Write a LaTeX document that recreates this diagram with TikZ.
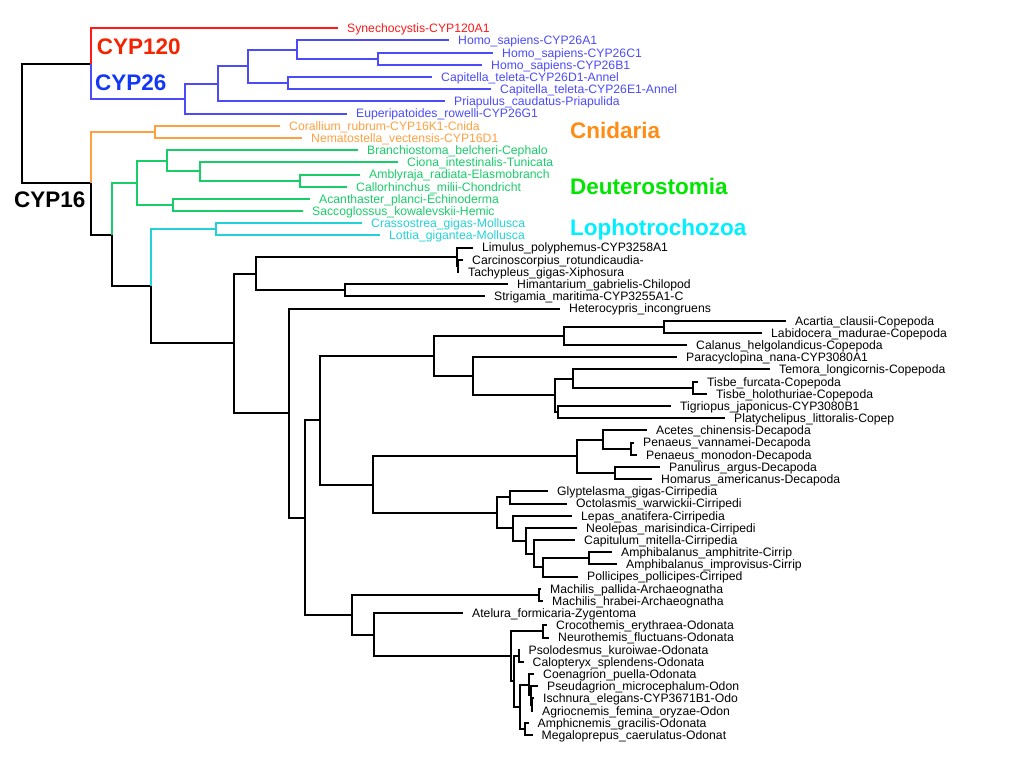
\documentclass[tikz,border=0pt]{standalone}
\usepackage{fontspec}
\setmainfont{Liberation Sans}
\definecolor{cred}{RGB}{255,25,25}
\definecolor{cblue}{RGB}{75,75,250}
\definecolor{corange}{RGB}{255,160,65}
\definecolor{cgreen}{RGB}{25,205,105}
\definecolor{ccyan}{RGB}{35,210,215}
\definecolor{lred}{RGB}{245,35,0}
\definecolor{lblue}{RGB}{20,55,245}
\definecolor{lorange}{RGB}{255,140,20}
\definecolor{lgreen}{RGB}{0,230,0}
\definecolor{lcyan}{RGB}{0,240,255}
\begin{document}
\begin{tikzpicture}[x=1pt,y=-12.185pt,
 br/.style={line width=2pt},
 tip/.style={anchor=west,inner xsep=9pt,inner ysep=0pt,text height=8.7pt,text depth=0pt,font=\fontsize{12.2}{13}\selectfont},
 clade/.style={anchor=west,inner sep=0pt,text height=16.1pt,text depth=0pt,font=\fontsize{22.5}{26}\selectfont\bfseries}]
 \useasboundingbox (0,-2.3225) rectangle (1024,60.706);
 \node[tip,text=cred] (syn) at (338,0) {Synechocystis-CYP120A1};
 \node[tip,text=cblue] (hsa) at (449,1) {Homo\_sapiens-CYP26A1};
 \node[tip,text=cblue] (hsc) at (493,2) {Homo\_sapiens-CYP26C1};
 \node[tip,text=cblue] (hsb) at (482,3) {Homo\_sapiens-CYP26B1};
 \node[tip,text=cblue] (ctd) at (432,4) {Capitella\_teleta-CYP26D1-Annel};
 \node[tip,text=cblue] (cte) at (491,5) {Capitella\_teleta-CYP26E1-Annel};
 \node[tip,text=cblue] (pca) at (445,6) {Priapulus\_caudatus-Priapulida};
 \node[tip,text=cblue] (eur) at (347,7) {Euperipatoides\_rowelli-CYP26G1};
 \node[tip,text=corange] (cru) at (280,8) {Corallium\_rubrum-CYP16K1-Cnida};
 \node[tip,text=corange] (nve) at (302,9) {Nematostella\_vectensis-CYP16D1};
 \node[tip,text=cgreen] (bbe) at (358,10) {Branchiostoma\_belcheri-Cephalo};
 \node[tip,text=cgreen] (cin) at (398,11) {Ciona\_intestinalis-Tunicata};
 \node[tip,text=cgreen] (ara) at (360,12) {Amblyraja\_radiata-Elasmobranch};
 \node[tip,text=cgreen] (cmi) at (347,13) {Callorhinchus\_milii-Chondricht};
 \node[tip,text=cgreen] (apl) at (310,14) {Acanthaster\_planci-Echinoderma};
 \node[tip,text=cgreen] (sko) at (303,15) {Saccoglossus\_kowalevskii-Hemic};
 \node[tip,text=ccyan] (cgi) at (362,16) {Crassostrea\_gigas-Mollusca};
 \node[tip,text=ccyan] (lgi) at (380,17) {Lottia\_gigantea-Mollusca};
 \node[tip] (lpo) at (473,18) {Limulus\_polyphemus-CYP3258A1};
 \node[tip] (cro) at (463,19) {Carcinoscorpius\_rotundicaudia-};
 \node[tip] (tgi) at (459,20) {Tachypleus\_gigas-Xiphosura};
 \node[tip] (hga) at (508,21) {Himantarium\_gabrielis-Chilopod};
 \node[tip] (sma) at (485,22) {Strigamia\_maritima-CYP3255A1-C};
 \node[tip] (hin) at (560,23) {Heterocypris\_incongruens};
 \node[tip] (acl) at (786,24) {Acartia\_clausii-Copepoda};
 \node[tip] (lma) at (762,25) {Labidocera\_madurae-Copepoda};
 \node[tip] (che) at (687,26) {Calanus\_helgolandicus-Copepoda};
 \node[tip] (pna) at (677,27) {Paracyclopina\_nana-CYP3080A1};
 \node[tip] (tlo) at (770,28) {Temora\_longicornis-Copepoda};
 \node[tip] (tfu) at (698,29) {Tisbe\_furcata-Copepoda};
 \node[tip] (tho) at (707,30) {Tisbe\_holothuriae-Copepoda};
 \node[tip] (tja) at (671,31) {Tigriopus\_japonicus-CYP3080B1};
 \node[tip] (pli) at (725,32) {Platychelipus\_littoralis-Copep};
 \node[tip] (ach) at (647,33) {Acetes\_chinensis-Decapoda};
 \node[tip] (pva) at (634,34) {Penaeus\_vannamei-Decapoda};
 \node[tip] (pmo) at (637,35) {Penaeus\_monodon-Decapoda};
 \node[tip] (par) at (660,36) {Panulirus\_argus-Decapoda};
 \node[tip] (ham) at (652,37) {Homarus\_americanus-Decapoda};
 \node[tip] (ggi) at (548,38) {Glyptelasma\_gigas-Cirripedia};
 \node[tip] (owa) at (567,39) {Octolasmis\_warwickii-Cirripedi};
 \node[tip] (lan) at (572,40) {Lepas\_anatifera-Cirripedia};
 \node[tip] (nma) at (577,41) {Neolepas\_marisindica-Cirripedi};
 \node[tip] (cmt) at (575,42) {Capitulum\_mitella-Cirripedia};
 \node[tip] (aam) at (612,43) {Amphibalanus\_amphitrite-Cirrip};
 \node[tip] (aim) at (617,44) {Amphibalanus\_improvisus-Cirrip};
 \node[tip] (ppo) at (578,45) {Pollicipes\_pollicipes-Cirriped};
 \node[tip] (mpa) at (541,46) {Machilis\_pallida-Archaeognatha};
 \node[tip] (mhr) at (543,47) {Machilis\_hrabei-Archaeognatha};
 \node[tip] (afo) at (463,48) {Atelura\_formicaria-Zygentoma};
 \node[tip] (cer) at (547,49) {Crocothemis\_erythraea-Odonata};
 \node[tip] (nfl) at (549,50) {Neurothemis\_fluctuans-Odonata};
 \node[tip] (pku) at (519.5,51) {Psolodesmus\_kuroiwae-Odonata};
 \node[tip] (csp) at (523.5,52) {Calopteryx\_splendens-Odonata};
 \node[tip] (cpu) at (534,53) {Coenagrion\_puella-Odonata};
 \node[tip] (pmi) at (538,54) {Pseudagrion\_microcephalum-Odon};
 \node[tip] (iel) at (534,55) {Ischnura\_elegans-CYP3671B1-Odo};
 \node[tip] (afe) at (533,56) {Agriocnemis\_femina\_oryzae-Odon};
 \node[tip] (agr) at (528.5,57) {Amphicnemis\_gracilis-Odonata};
 \node[tip] (mca) at (532.5,58) {Megaloprepus\_caerulatus-Odonat};
 \coordinate (root) at (22,7.803);
 \coordinate (n120) at (91,2.8906);
 \coordinate (n26) at (185,5.7813);
 \coordinate (n26b) at (218,4.5625);
 \coordinate (n26c) at (248,3.125);
 \coordinate (n26d) at (297,1.75);
 \coordinate (n26e) at (377.7,2.5);
 \coordinate (n26f) at (288,4.5);
 \coordinate (n16) at (91,12.716);
 \coordinate (ncni) at (154.5,8.5);
 \coordinate (n16b) at (112.3,16.932);
 \coordinate (ndeu) at (137.3,12.6875);
 \coordinate (ndeu1) at (166.7,10.875);
 \coordinate (ndeu2) at (200,11.75);
 \coordinate (ndeu3) at (300,12.5);
 \coordinate (ndeu4) at (172.7,14.5);
 \coordinate (n16c) at (151,21.176);
 \coordinate (nlop) at (216,16.5);
 \coordinate (nart) at (234.3,25.852);
 \coordinate (nmyr) at (256,20.125);
 \coordinate (nxip) at (457,18.75);
 \coordinate (nxip2) at (457.6,19.5);
 \coordinate (nchi) at (345,21.5);
 \coordinate (npan) at (289,31.578);
 \coordinate (npan2) at (305.3,40.156);
 \coordinate (ncru) at (320,32.1758);
 \coordinate (ncop) at (434,26.9063);
 \coordinate (ncal) at (563.6,25.25);
 \coordinate (ncal2) at (663.6,24.5);
 \coordinate (ncyc) at (473,28.5625);
 \coordinate (ncyc2) at (555,30.125);
 \coordinate (ncyc3) at (573,28.75);
 \coordinate (ntis) at (693,29.5);
 \coordinate (ncyc4) at (558,31.5);
 \coordinate (nthe) at (372.6,37.4453);
 \coordinate (ndec) at (576.7,35.125);
 \coordinate (ndec2) at (602.7,33.75);
 \coordinate (npen) at (630.7,34.5);
 \coordinate (ndec3) at (615,36.5);
 \coordinate (ncir) at (497.3,39.7656);
 \coordinate (ncir2) at (510,38.5);
 \coordinate (ncir3) at (513.3,41.0313);
 \coordinate (ncir4) at (525.7,42.0625);
 \coordinate (ncir5) at (534.3,43.125);
 \coordinate (ncir6) at (543.3,44.25);
 \coordinate (namp) at (589.3,43.5);
 \coordinate (nins) at (351.7,48.1367);
 \coordinate (nmac) at (539.3,46.5);
 \coordinate (nins2) at (374.3,49.7734);
 \coordinate (nodo) at (511,51.5469);
 \coordinate (nodo1) at (543,49.5);
 \coordinate (nodo2) at (514,53.5938);
 \coordinate (nodo3) at (518.5,51.5);
 \coordinate (nodo4) at (520,55.6875);
 \coordinate (nodo5) at (525,57.5);
 \coordinate (nodo6) at (529,53.875);
 \coordinate (nodo7) at (531,54.75);
 \coordinate (nodo8) at (532,55.5);
 \draw[br] (root) |- (n120) (root) |- (n16);
 \draw[br,cred] (n120) |- (syn.west);
 \draw[br,cblue] (n120) |- (n26);
 \draw[br,cblue] (n26) |- (n26b) (n26) |- (eur.west);
 \draw[br,cblue] (n26b) |- (n26c) (n26b) |- (pca.west);
 \draw[br,cblue] (n26c) |- (n26d) (n26c) |- (n26f);
 \draw[br,cblue] (n26d) |- (hsa.west) (n26d) |- (n26e);
 \draw[br,cblue] (n26e) |- (hsc.west) (n26e) |- (hsb.west);
 \draw[br,cblue] (n26f) |- (ctd.west) (n26f) |- (cte.west);
 \draw[br,corange] (n16) |- (ncni);
 \draw[br] (n16) |- (n16b);
 \draw[br,corange] (ncni) |- (cru.west) (ncni) |- (nve.west);
 \draw[br,cgreen] (n16b) |- (ndeu);
 \draw[br] (n16b) |- (n16c);
 \draw[br,cgreen] (ndeu) |- (ndeu1) (ndeu) |- (ndeu4);
 \draw[br,cgreen] (ndeu1) |- (bbe.west) (ndeu1) |- (ndeu2);
 \draw[br,cgreen] (ndeu2) |- (cin.west) (ndeu2) |- (ndeu3);
 \draw[br,cgreen] (ndeu3) |- (ara.west) (ndeu3) |- (cmi.west);
 \draw[br,cgreen] (ndeu4) |- (apl.west) (ndeu4) |- (sko.west);
 \draw[br,ccyan] (n16c) |- (nlop);
 \draw[br] (n16c) |- (nart);
 \draw[br,ccyan] (nlop) |- (cgi.west) (nlop) |- (lgi.west);
 \draw[br] (nart) |- (nmyr) (nart) |- (npan);
 \draw[br] (nmyr) |- (nxip) (nmyr) |- (nchi);
 \draw[br] (nxip) |- (lpo.west) (nxip) |- (nxip2);
 \draw[br] (nxip2) |- (cro.west) (nxip2) |- (tgi.west);
 \draw[br] (nchi) |- (hga.west) (nchi) |- (sma.west);
 \draw[br] (npan) |- (hin.west) (npan) |- (npan2);
 \draw[br] (npan2) |- (ncru) (npan2) |- (nins);
 \draw[br] (ncru) |- (ncop) (ncru) |- (nthe);
 \draw[br] (ncop) |- (ncal) (ncop) |- (ncyc);
 \draw[br] (ncal) |- (ncal2) (ncal) |- (che.west);
 \draw[br] (ncal2) |- (acl.west) (ncal2) |- (lma.west);
 \draw[br] (ncyc) |- (pna.west) (ncyc) |- (ncyc2);
 \draw[br] (ncyc2) |- (ncyc3) (ncyc2) |- (ncyc4);
 \draw[br] (ncyc3) |- (tlo.west) (ncyc3) |- (ntis);
 \draw[br] (ntis) |- (tfu.west) (ntis) |- (tho.west);
 \draw[br] (ncyc4) |- (tja.west) (ncyc4) |- (pli.west);
 \draw[br] (nthe) |- (ndec) (nthe) |- (ncir);
 \draw[br] (ndec) |- (ndec2) (ndec) |- (ndec3);
 \draw[br] (ndec2) |- (ach.west) (ndec2) |- (npen);
 \draw[br] (npen) |- (pva.west) (npen) |- (pmo.west);
 \draw[br] (ndec3) |- (par.west) (ndec3) |- (ham.west);
 \draw[br] (ncir) |- (ncir2) (ncir) |- (ncir3);
 \draw[br] (ncir2) |- (ggi.west) (ncir2) |- (owa.west);
 \draw[br] (ncir3) |- (lan.west) (ncir3) |- (ncir4);
 \draw[br] (ncir4) |- (nma.west) (ncir4) |- (ncir5);
 \draw[br] (ncir5) |- (cmt.west) (ncir5) |- (ncir6);
 \draw[br] (ncir6) |- (namp) (ncir6) |- (ppo.west);
 \draw[br] (namp) |- (aam.west) (namp) |- (aim.west);
 \draw[br] (nins) |- (nmac) (nins) |- (nins2);
 \draw[br] (nmac) |- (mpa.west) (nmac) |- (mhr.west);
 \draw[br] (nins2) |- (afo.west) (nins2) |- (nodo);
 \draw[br] (nodo) |- (nodo1) (nodo) |- (nodo2);
 \draw[br] (nodo1) |- (cer.west) (nodo1) |- (nfl.west);
 \draw[br] (nodo2) |- (nodo3) (nodo2) |- (nodo4);
 \draw[br] (nodo3) |- (pku.west) (nodo3) |- (csp.west);
 \draw[br] (nodo4) |- (nodo6) (nodo4) |- (nodo5);
 \draw[br] (nodo6) |- (cpu.west) (nodo6) |- (nodo7);
 \draw[br] (nodo7) |- (pmi.west) (nodo7) |- (nodo8);
 \draw[br] (nodo8) |- (iel.west) (nodo8) |- (afe.west);
 \draw[br] (nodo5) |- (agr.west) (nodo5) |- (mca.west);
 \node[clade,text=lred] (l120) at (96.7,1.51) {CYP120};
 \node[clade,text=lblue] (l26) at (95,4.46) {CYP26};
 \node[clade] (l16) at (14,14.01) {CYP16};
 \node[clade,text=lorange] (lcni) at (570,8.35) {Cnidaria};
 \node[clade,text=lgreen] (ldeu) at (570,12.94) {Deuterostomia};
 \node[clade,text=lcyan] (llop) at (570,16.33) {Lophotrochozoa};
\end{tikzpicture}
\end{document}
